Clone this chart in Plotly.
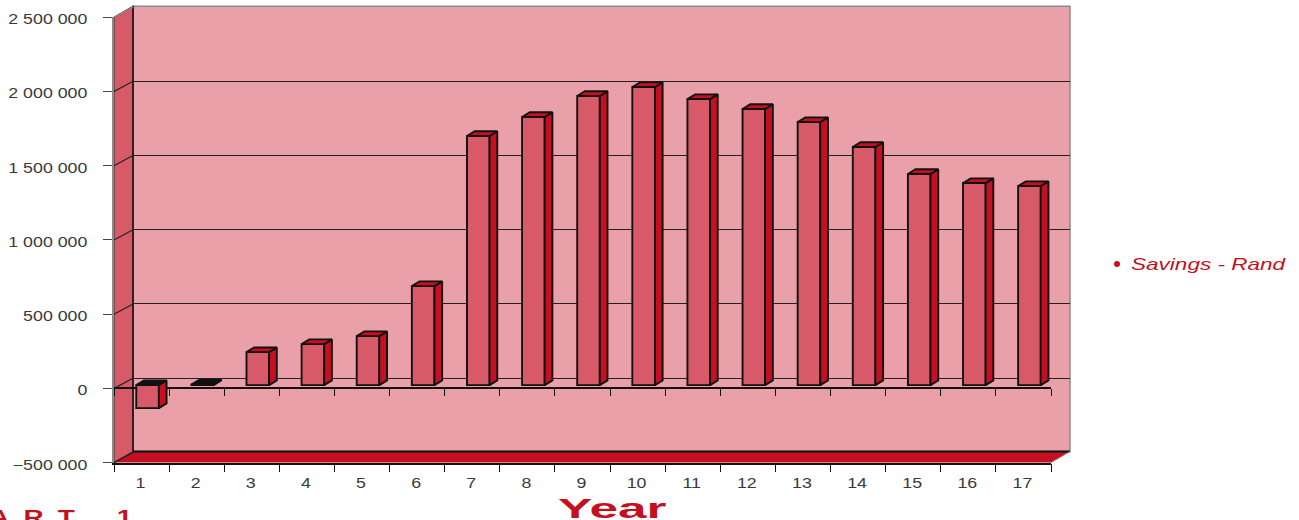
import plotly.graph_objects as go

# ---- data ----
years = [str(i) for i in range(1, 18)]
savings = [-155000, 3000, 222000, 276000, 330000, 667000, 1678000, 1806000, 1948000,
           2008000, 1927000, 1860000, 1772000, 1604000, 1422000, 1361000, 1341000]
y_ticks = [-500000, 0, 500000, 1000000, 1500000, 2000000, 2500000]
series_name = "Savings - Rand"
x_title = "Year"
caption = "C\u2002H\u2002A\u2002R\u2002T\u2002\u2002\u20021"

# ---- geometry (pixels of the 1299x520 page) ----
W, H = 1299, 520
FX0, FX1 = 114, 1051        # front plane
FY_TOP, FY_BOT = 17.3, 462.6
BACK_DX, BACK_DY = 19, 11   # depth of the box
GRID_DY = 10.2              # depth of the gridlines on the back wall
BAR_DX, BAR_DY = 6, 3.3     # depth of the bar plane
FACE_DX, FACE_DY = 7.7, 4.7 # bar depth

WALL = "#e9a0a8"
FACE = "#d85a68"
DEEP = "#c41020"
TEXT = "#3a3a3a"
INK = "#111111"
GREY = "#8a8a8a"


def xd(dx=0):
    return [(FX0 + dx) / W, (FX1 + dx) / W]


def yd(dy=0):
    return [1 - (FY_BOT - dy) / H, 1 - (FY_TOP - dy) / H]


ymin, ymax = -500000, 2500000
px_per_val = (FY_BOT - FY_TOP) / (ymax - ymin)
px_per_cat = (FX1 - FX0) / len(years)
zero_px = FY_BOT + ymin * px_per_val

fig = go.Figure()

# front plane: bottom axis with category labels (trace invisible, only carries the axis)
fig.add_trace(go.Scatter(x=years, y=[None] * len(years), xaxis="x", yaxis="y",
                         mode="markers", showlegend=False, hoverinfo="skip"))
# front zero line
fig.add_trace(go.Scatter(x=years, y=[None] * len(years), xaxis="x2", yaxis="y",
                         mode="markers", showlegend=False, hoverinfo="skip"))
# back wall plane with the gridlines
fig.add_trace(go.Scatter(x=years, y=[None] * len(years), xaxis="x3", yaxis="y3",
                         mode="markers", showlegend=False, hoverinfo="skip"))

# bars
BAR_WIDTH = 0.41
LINE_W = 1.9
fig.add_trace(go.Bar(x=years, y=savings, xaxis="x4", yaxis="y4", width=BAR_WIDTH,
                     marker=dict(color=FACE, line=dict(color=INK, width=LINE_W)),
                     showlegend=False, name=series_name))

ddx = FACE_DX / px_per_cat
ddy = FACE_DY / px_per_val
side_x, side_y, top_x, top_y, dark_x, dark_y = [], [], [], [], [], []
for i, v in enumerate(savings):
    l, r = i - BAR_WIDTH / 2, i + BAR_WIDTH / 2
    up = max(v, 0)
    lo = min(v, 0)
    side_x += [r, r + ddx, r + ddx, r, r, None]
    side_y += [up, up + ddy, lo + ddy, lo, up, None]
    tx = [l, l + ddx, r + ddx, r, l, None]
    ty = [up, up + ddy, up + ddy, up, up, None]
    if v < 100000:
        dark_x += tx
        dark_y += ty
    else:
        top_x += tx
        top_y += ty

for xs, ys, col in ((side_x, side_y, DEEP), (top_x, top_y, DEEP), (dark_x, dark_y, INK)):
    fig.add_trace(go.Scatter(x=xs, y=ys, xaxis="x5", yaxis="y4", mode="lines", fill="toself",
                             fillcolor=col, line=dict(color=INK, width=LINE_W),
                             showlegend=False, hoverinfo="skip"))

# legend entry
fig.add_trace(go.Scatter(x=[None], y=[None], xaxis="x", yaxis="y", mode="markers",
                         marker=dict(color=DEEP, size=6), name=series_name))

# walls and floor
shapes = [
    dict(type="rect", xref="paper", yref="paper", layer="below",
         x0=(FX0 + BACK_DX) / W, x1=(FX1 + BACK_DX) / W,
         y0=1 - (FY_BOT - BACK_DY) / H, y1=1 - (FY_TOP - BACK_DY) / H,
         fillcolor=WALL, line=dict(color=GREY, width=1.5)),
    dict(type="path", xref="paper", yref="paper", layer="below",
         path=f"M{FX0/W},{1-FY_TOP/H} L{(FX0+BACK_DX)/W},{1-(FY_TOP-BACK_DY)/H} "
              f"L{(FX0+BACK_DX)/W},{1-(FY_BOT-BACK_DY)/H} L{FX0/W},{1-FY_BOT/H} Z",
         fillcolor=FACE, line=dict(color="#444444", width=1.2)),
    dict(type="path", xref="paper", yref="paper", layer="below",
         path=f"M{FX0/W},{1-FY_BOT/H} L{(FX0+BACK_DX)/W},{1-(FY_BOT-BACK_DY)/H} "
              f"L{(FX1+BACK_DX)/W},{1-(FY_BOT-BACK_DY)/H} L{FX1/W},{1-FY_BOT/H} Z",
         fillcolor=DEEP, line=dict(color=INK, width=0)),
    dict(type="line", xref="paper", yref="paper", layer="below",
         x0=(FX0 + BACK_DX) / W, x1=(FX1 + BACK_DX) / W,
         y0=1 - (FY_BOT - BACK_DY) / H, y1=1 - (FY_BOT - BACK_DY) / H,
         line=dict(color=INK, width=2)),
    dict(type="line", xref="paper", yref="paper", layer="below",
         x0=FX1 / W, x1=(FX1 + BACK_DX) / W,
         y0=1 - FY_BOT / H, y1=1 - (FY_BOT - BACK_DY) / H,
         line=dict(color=GREY, width=1)),
    dict(type="line", xref="paper", yref="paper", layer="below",
         x0=(FX0 + BACK_DX) / W, x1=(FX0 + BACK_DX) / W,
         y0=1 - (FY_BOT - BACK_DY) / H, y1=1 - (FY_TOP - BACK_DY) / H,
         line=dict(color=INK, width=1.5)),
]
# gridline returns on the left wall
for t in y_ticks:
    py = FY_BOT - (t - ymin) * px_per_val
    shapes.append(dict(type="line", xref="paper", yref="paper", layer="below",
                       x0=FX0 / W, x1=(FX0 + BACK_DX) / W,
                       y0=1 - py / H, y1=1 - (py - GRID_DY) / H,
                       line=dict(color="#222222" if t < ymax else GREY, width=1.2)))

tick_font = dict(family="Liberation Sans", size=14, color=TEXT)
cat_common = dict(type="category", categoryorder="array", categoryarray=years,
                  range=[-0.5, len(years) - 0.5], showgrid=False, zeroline=False)
val_common = dict(range=[ymin, ymax], showgrid=False, zeroline=False)

fig.update_layout(
    width=W, height=H, autosize=False,
    margin=dict(l=0, r=0, t=0, b=0, pad=0, autoexpand=False),
    paper_bgcolor="white", plot_bgcolor="rgba(0,0,0,0)",
    separators=". ",
    showlegend=True,
    hovermode=False,
    legend=dict(x=1097 / W, y=1 - 264 / H,
                xanchor="left", yanchor="middle",
                bgcolor="rgba(0,0,0,0)", borderwidth=0, itemwidth=30,
                font=dict(family="Liberation Sans", size=16, color=DEEP, style="italic")),
    shapes=shapes,
    xaxis=dict(domain=xd(), anchor="y", ticks="outside", tickson="boundaries", ticklen=8,
               tickcolor=INK, tickwidth=1, showline=True, linecolor=INK, linewidth=1.5,
               tickfont=tick_font, ticklabelstandoff=7, ticklabelshift=-1, **cat_common),
    xaxis2=dict(domain=xd(), overlaying="x", anchor="free", position=1 - zero_px / H, side="bottom",
                ticks="outside", tickson="boundaries", ticklen=7, tickcolor=INK, tickwidth=1,
                showline=True, linecolor=INK, linewidth=1.5, showticklabels=False, **cat_common),
    xaxis3=dict(domain=xd(BACK_DX), anchor="y3", visible=False, **cat_common),
    xaxis4=dict(domain=xd(BAR_DX), anchor="y4", visible=False, **cat_common),
    xaxis5=dict(domain=xd(BAR_DX), anchor="y4", overlaying="x4", visible=False,
                range=[-0.5, len(years) - 0.5], showgrid=False, zeroline=False),
    yaxis=dict(domain=yd(), anchor="x", tickmode="array", tickvals=y_ticks, tickformat=",d",
               ticks="outside", ticklen=9, tickcolor="#444444", tickwidth=1, showline=True,
               linecolor=GREY, linewidth=1.5, tickfont=tick_font, ticklabelstandoff=13,
               ticklabelshift=2, **val_common),
    yaxis3=dict(domain=yd(GRID_DY), anchor="x3", tickmode="array", tickvals=y_ticks,
                showticklabels=False, ticks="", range=[ymin, ymax], showgrid=True,
                gridcolor="#222222", gridwidth=1, zeroline=False),
    yaxis4=dict(domain=yd(BAR_DY), anchor="x4", visible=False, **val_common),
    annotations=[
        dict(text=f"<b>{x_title}</b>", xref="paper", yref="paper", x=612.5 / W, y=1 - 509 / H,
             xanchor="center", yanchor="middle", showarrow=False,
             font=dict(family="Liberation Sans", size=27, color=DEEP)),
        dict(text=f"<b>{caption}</b>", xref="paper", yref="paper", x=26 / W, y=1 - 517 / H,
             xanchor="center", yanchor="middle", showarrow=False,
             font=dict(family="Liberation Sans", size=20, color=DEEP)),
    ],
)

stretch = """
document.body.style.margin = '0';
function stretch(els, sx, shift) {
  els.forEach(function (t) {
    var b = t.getBBox(), a = t.getAttribute('text-anchor') || 'start';
    var cx = a === 'end' ? b.x + b.width : (a === 'middle' ? b.x + b.width / 2 : b.x);
    var old = t.getAttribute('transform') || '';
    t.setAttribute('transform', old + ' translate(' + (cx + (shift || 0)) + ',0) scale(' + sx + ',1) translate(' + (-cx) + ',0)');
  });
}
var q = function (s) { return Array.from(document.querySelectorAll(s)); };
stretch(q('.ytick text'), 1.27);
stretch(q('.xtick text'), 1.27);
stretch(q('.legendtext'), 1.41, -6);
q('.legend .scrollbox').forEach(function (n) { n.removeAttribute('clip-path'); n.style.clipPath = 'none'; });
var ann = q('.annotation-text');
stretch(ann.slice(0, 1), 1.9);
stretch(ann.slice(1, 2), 1.4);
"""
fig.write_html("out.html", post_script=stretch, config={"displayModeBar": False})
